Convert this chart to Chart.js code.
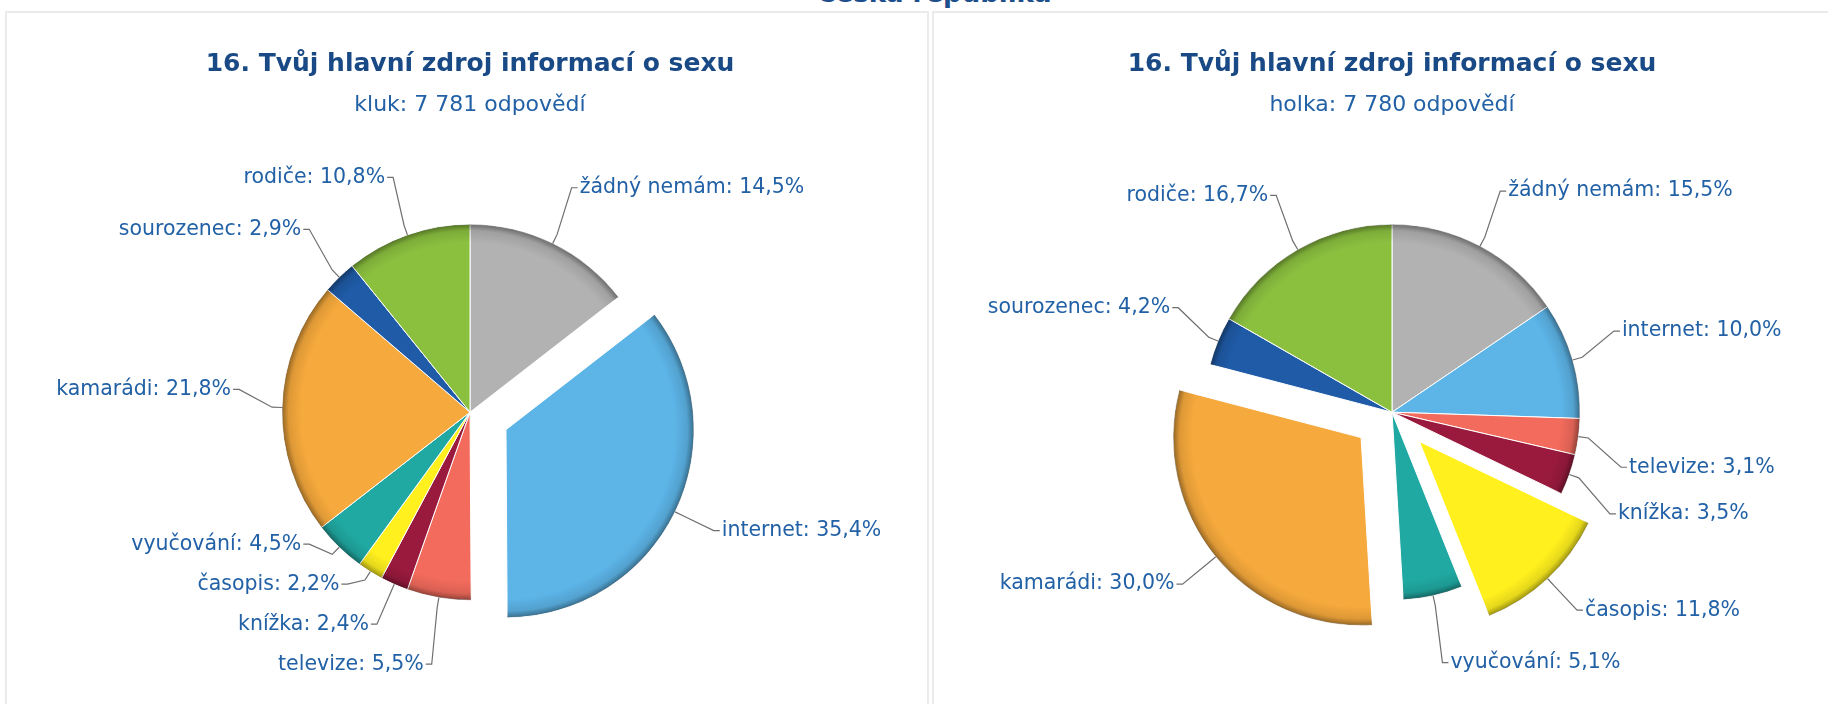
<!DOCTYPE html>
<html>
<head>
<meta charset="utf-8">
<script src="https://cdn.jsdelivr.net/npm/chart.js@4.4.1/dist/chart.umd.min.js"></script>
<style>
  html, body { margin: 0; padding: 0; background: #fff; width: 1828px; height: 704px; overflow: hidden; }
  .heading { position: absolute; left: 934px; top: -19px; transform: translateX(-50%);
             font: bold 26px "DejaVu Sans"; line-height: 24px; color: #1d4f8c; white-space: nowrap; }
  .panel { position: absolute; top: 11px; height: 720px; border: 2px solid #ebebeb; background: #fff; }
  #boxKluk { left: 5px; width: 920px; }
  #boxHolka { left: 932px; width: 920px; }
  canvas { display: block; }
</style>
</head>
<body>
<div class="heading">Česká republika</div>
<div class="panel" id="boxKluk"><canvas id="chartKluk" width="920" height="692"></canvas></div>
<div class="panel" id="boxHolka"><canvas id="chartHolka" width="910" height="692"></canvas></div>

<script>
// categories in clockwise order from 12 o'clock
const categories = ['žádný nemám', 'internet', 'televize', 'knížka', 'časopis', 'vyučování', 'kamarádi', 'sourozenec', 'rodiče'];
const klukValues = [14.5, 35.4, 5.5, 2.4, 2.2, 4.5, 21.8, 2.9, 10.8];
const holkaValues = [15.5, 10.0, 3.1, 3.5, 11.8, 5.1, 30.0, 4.2, 16.7];
const klukExploded = ['internet'];
const holkaExploded = ['časopis', 'kamarádi'];
const sliceColors = ['#b2b2b2', '#5cb4e7', '#f26b5c', '#9a1a3d', '#fff01e', '#20a9a2', '#f6a93c', '#1f5ba7', '#8bc03f'];

const titleText = '16. Tvůj hlavní zdroj informací o sexu';
const FONT = '"DejaVu Sans", Verdana, sans-serif';
const PIE_RADIUS = 188;
const EXPLODE = 40;      // distance of pulled-out slices
const LABEL_DIST = 43;   // label distance from the rim
const LABEL_PUSH = 21;   // vertical push away from the horizontal axis
const LABEL_SHIFT = 4;   // small downward shift of the labels
const LABEL_GAP = 40;    // minimal spacing between labels on one side
const LABEL_LIMIT = 64;  // how far above/below the pie labels may go

function formatPct(v) {
    return v.toFixed(1).replace('.', ',') + '%';
}

// spread labels of one side so they do not overlap
function distribute(items, yMin, yMax) {
    items.sort((a, b) => a.y - b.y);
    for (let i = 1; i < items.length; i++) {
        items[i].y = Math.max(items[i].y, items[i - 1].y + LABEL_GAP);
    }
    if (items.length && items[items.length - 1].y > yMax) items[items.length - 1].y = yMax;
    for (let i = items.length - 2; i >= 0; i--) {
        items[i].y = Math.min(items[i].y, items[i + 1].y - LABEL_GAP);
    }
    if (items.length && items[0].y < yMin) items[0].y = yMin;
    for (let i = 1; i < items.length; i++) {
        items[i].y = Math.max(items[i].y, items[i - 1].y + LABEL_GAP);
    }
}

function makeChart(canvasId, values, exploded, subtitleText, padLeft) {
    const isExploded = categories.map(c => exploded.includes(c));

    const pieDecor = {
        id: 'pieDecor',
        afterDatasetUpdate(chart, args) {
            // pull the exploded slices out without changing their radius
            args.meta.data.forEach((arc, i) => {
                if (!isExploded[i]) return;
                const mid = (arc.startAngle + arc.endAngle) / 2;
                arc.x += Math.cos(mid) * EXPLODE;
                arc.y += Math.sin(mid) * EXPLODE;
            });
        },
        afterDatasetDraw(chart, args) {
            // darker rim, like the shaded look of the original
            const ctx = chart.ctx;
            args.meta.data.forEach(arc => {
                const {x, y, startAngle, endAngle, outerRadius} = arc;
                ctx.save();
                ctx.beginPath();
                ctx.moveTo(x, y);
                ctx.arc(x, y, outerRadius, startAngle, endAngle);
                ctx.closePath();
                ctx.clip();
                const g = ctx.createRadialGradient(x, y, 0, x, y, outerRadius);
                g.addColorStop(0, 'rgba(0,0,0,0)');
                g.addColorStop(0.9, 'rgba(0,0,0,0)');
                g.addColorStop(0.965, 'rgba(0,0,0,0.1)');
                g.addColorStop(1, 'rgba(0,0,0,0.4)');
                ctx.fillStyle = g;
                ctx.fill();
                ctx.restore();
            });
        },
        afterDatasetsDraw(chart) {
            const meta = chart.getDatasetMeta(0);
            const ctx = chart.ctx;
            const area = chart.chartArea;
            const cy = (area.top + area.bottom) / 2;
            const items = meta.data.map((arc, i) => {
                const mid = (arc.startAngle + arc.endAngle) / 2;
                const cos = Math.cos(mid), sin = Math.sin(mid);
                const r = arc.outerRadius;
                const push = isExploded[i] ? 0 : (sin >= 0 ? LABEL_PUSH : -LABEL_PUSH) + LABEL_SHIFT;
                return {
                    i, arc, cos, sin, r,
                    left: cos < 0,
                    x: arc.x + (r + LABEL_DIST) * cos,
                    y: arc.y + (r + LABEL_DIST) * sin + push
                };
            });
            const yMin = cy - PIE_RADIUS - LABEL_LIMIT;
            const yMax = cy + PIE_RADIUS + LABEL_LIMIT;
            distribute(items.filter(it => it.left), yMin, yMax);
            distribute(items.filter(it => !it.left), yMin, yMax);

            ctx.save();
            ctx.font = '20.5px ' + FONT;
            ctx.textBaseline = 'middle';
            items.forEach(it => {
                const {arc, cos, sin, r} = it;
                const dir = it.left ? -1 : 1;
                ctx.beginPath();
                ctx.moveTo(arc.x + r * cos, arc.y + r * sin);
                ctx.lineTo(arc.x + (r + 10) * cos, arc.y + (r + 10) * sin);
                ctx.lineTo(it.x, it.y);
                ctx.lineTo(it.x + dir * 6, it.y);
                ctx.strokeStyle = '#6f6f6f';
                ctx.lineWidth = 1.2;
                ctx.stroke();
                ctx.fillStyle = '#2261a6';
                ctx.textAlign = it.left ? 'right' : 'left';
                ctx.fillText(categories[it.i] + ': ' + formatPct(values[it.i]), it.x + dir * 8, it.y);
            });
            ctx.restore();
        }
    };

    return new Chart(document.getElementById(canvasId), {
        type: 'pie',
        data: {
            labels: categories,
            datasets: [{
                data: values,
                backgroundColor: sliceColors,
                borderColor: '#ffffff',
                borderWidth: 1,
                radius: PIE_RADIUS
            }]
        },
        options: {
            responsive: false,
            animation: false,
            layout: { padding: { left: padLeft, right: 0, top: 0, bottom: 0 } },
            plugins: {
                legend: { display: false },
                tooltip: { enabled: false },
                title: {
                    display: true,
                    text: titleText,
                    color: '#1a4a86',
                    font: { family: FONT, size: 25, weight: 'bold', lineHeight: 1.2 },
                    padding: { top: 36, bottom: 0 }
                },
                subtitle: {
                    display: true,
                    text: subtitleText,
                    color: '#2261a6',
                    font: { family: FONT, size: 22, lineHeight: 1.2 },
                    padding: { top: 13, bottom: 1 }
                }
            }
        },
        plugins: [pieDecor]
    });
}

makeChart('chartKluk', klukValues, klukExploded, 'kluk: 7 781 odpovědí', 6);
makeChart('chartHolka', holkaValues, holkaExploded, 'holka: 7 780 odpovědí', 6);
</script>
</body>
</html>
